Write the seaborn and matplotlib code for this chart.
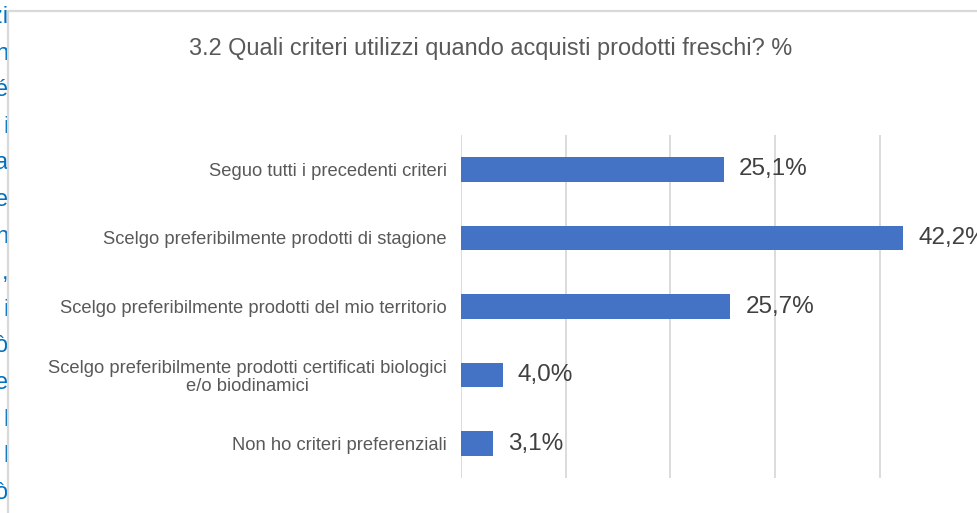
import matplotlib
matplotlib.use("Agg")
import matplotlib.pyplot as plt
import seaborn as sns
import pandas as pd

categories = [
    "Seguo tutti i precedenti criteri",
    "Scelgo preferibilmente prodotti di stagione",
    "Scelgo preferibilmente prodotti del mio territorio",
    "Scelgo preferibilmente prodotti certificati biologici\ne/o biodinamici",
    "Non ho criteri preferenziali",
]
values = [25.1, 42.2, 25.7, 4.0, 3.1]
value_labels = ["25,1%", "42,2%", "25,7%", "4,0%", "3,1%"]
title = "3.2 Quali criteri utilizzi quando acquisti prodotti freschi? %"
side_fragments = ["zi", "n", "é", "i", "a", "e", "n", ",", "i", "ò", "e", "l", "l", "ò", "l"]

sns.set_theme(style="white")
plt.rcParams["font.family"] = ["Liberation Sans", "DejaVu Sans"]

W, H = 978, 513
fig = plt.figure(figsize=(W / 100, H / 100), dpi=100)
fig.patch.set_facecolor("white")

x0, x1 = 460.7, 984.7
y_top, y_bot = 135, 478
ax = fig.add_axes([x0 / W, 1 - y_bot / H, (x1 - x0) / W, (y_bot - y_top) / H])

df = pd.DataFrame({"cat": categories, "val": values})
sns.barplot(data=df, y="cat", x="val", orient="h", color="#4472C4",
            width=0.356, saturation=1, ax=ax, edgecolor="none")

ax.set_xlim(0, 50)
ax.set_xticks([0, 10, 20, 30, 40, 50])
ax.set_xticklabels([])
ax.tick_params(axis="x", length=0)
ax.tick_params(axis="y", length=0, pad=10, labelsize=13.2, labelcolor="#595959")
for lbl in ax.get_yticklabels():
    lbl.set_multialignment("center")
    lbl.set_linespacing(1.1)
ax.grid(axis="x", color="#d9d9d9", linewidth=1.3)
ax.set_axisbelow(True)
for s in ax.spines.values():
    s.set_visible(False)
ax.set_xlabel("")
ax.set_ylabel("")

for i, (v, t) in enumerate(zip(values, value_labels)):
    ax.annotate(t, xy=(v, i), xytext=(11, 0), textcoords="offset points",
                va="center", ha="left", fontsize=17.5, color="#404040",
                annotation_clip=False)

fig.text(491 / W, 1 - 48 / H, title, ha="center", va="center",
         fontsize=16.9, color="#595959")

# document text fragments on the left, then the chart border (top and left)
for k, frag in enumerate(side_fragments):
    fig.text(8.5 / W, 1 - (17 + 36.6 * k) / H, frag, ha="right", va="center",
             fontsize=17, color="#0070C0", zorder=1)
fig.add_artist(plt.Line2D([8 / W, 1], [1 - 11 / H, 1 - 11 / H], color="#d9d9d9", linewidth=1.6,
                          transform=fig.transFigure, zorder=5))
fig.add_artist(plt.Line2D([8 / W, 8 / W], [0, 1 - 11 / H], color="#d9d9d9", linewidth=1.6,
                          transform=fig.transFigure, zorder=5))

fig.savefig("out.png", dpi=100, facecolor="white")
